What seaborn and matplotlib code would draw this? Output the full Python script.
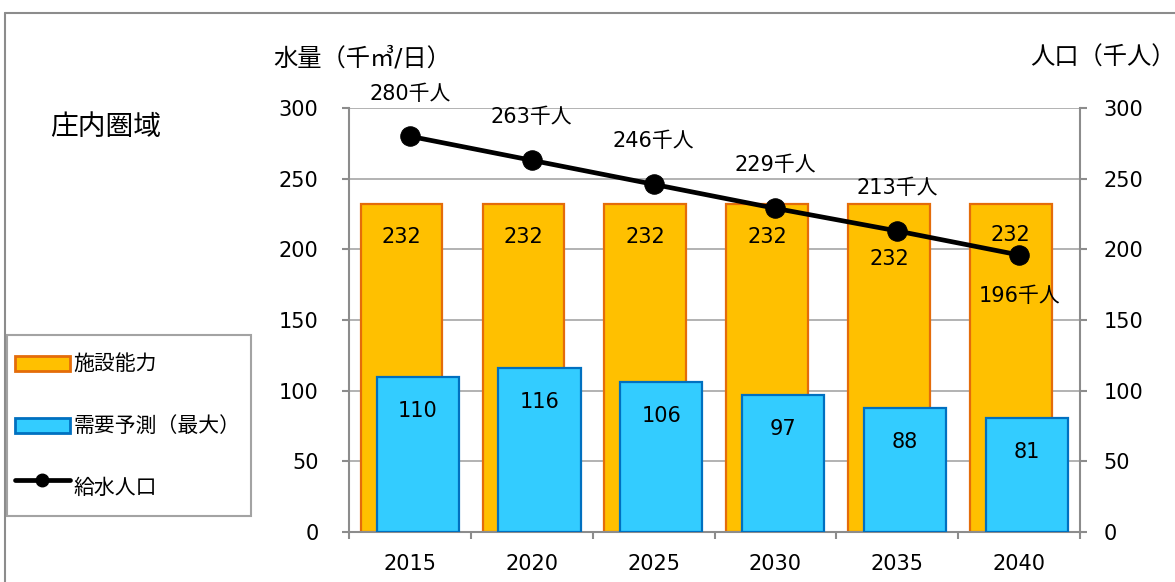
import numpy as np
import pandas as pd
import seaborn as sns
import matplotlib.pyplot as plt
from matplotlib.lines import Line2D
from matplotlib.patches import Patch, Rectangle
from matplotlib.legend_handler import HandlerPatch

# ---- data ----
years = ["2015", "2020", "2025", "2030", "2035", "2040"]
capacity = [232, 232, 232, 232, 232, 232]
demand = [110, 116, 106, 97, 88, 81]
population = [280, 263, 246, 229, 213, 196]
y_ticks = [0, 50, 100, 150, 200, 250, 300]

# ---- style ----
sns.set_style("white")
plt.rcParams['font.family'] = ['DejaVu Sans', 'Noto Sans CJK JP']
plt.rcParams['font.size'] = 15
plt.rcParams['text.color'] = 'black'
plt.rcParams['xtick.color'] = 'black'
plt.rcParams['ytick.color'] = 'black'

W, H = 1175, 582
GRAY = '#8C8C8C'
orange_fill, orange_edge = '#FFC000', '#E46C0A'
blue_fill, blue_edge = '#33CCFF', '#0070C0'

fig = plt.figure(figsize=(W / 100, H / 100), dpi=100)
ax = fig.add_axes([349 / W, 1 - 532 / H, (1080 - 349) / W, (532 - 108) / H])

df = pd.DataFrame({"year": years, "capacity": capacity, "demand": demand,
                   "population": population})
n = len(years)

sns.barplot(data=df, x="year", y="capacity", color=orange_fill, width=0.67,
            edgecolor=orange_edge, linewidth=1.6, saturation=1, ax=ax, zorder=2)
for p in ax.patches[:n]:
    p.set_x(p.get_x() - 0.068)
sns.barplot(data=df, x="year", y="demand", color=blue_fill, width=0.675,
            edgecolor=blue_edge, linewidth=1.6, saturation=1, ax=ax, zorder=3)
for p in ax.patches[n:2 * n]:
    p.set_x(p.get_x() + 0.064)

ax.set_xlim(-0.5, n - 0.5)
ax.set_ylim(0, 300)
ax.set_yticks(y_ticks)
ax.set_xlabel("")
ax.set_ylabel("")
ax.yaxis.grid(True, color='#A6A6A6', lw=1.2, zorder=0)
ax.set_axisbelow(True)
for s in ['left', 'bottom']:
    ax.spines[s].set_color(GRAY)
    ax.spines[s].set_linewidth(1.5)
ax.spines['top'].set_visible(False)
ax.spines['right'].set_visible(False)

ax.set_xticks(np.arange(n))
ax.set_xticklabels(years)
ax.set_xticks(np.arange(n + 1) - 0.5, minor=True)
ax.tick_params(axis='x', which='major', length=0, pad=16, labelsize=15,
               labelcolor='black')
ax.tick_params(axis='x', which='minor', bottom=True, length=5, width=1.5,
               color=GRAY, direction='out')
ax.tick_params(axis='y', left=True, length=5, width=1.5, color=GRAY,
               direction='out', pad=17, labelsize=15, labelcolor='black')

# bar labels
cap_offsets = [-33, -33, -33, -33, -55, -31]
for i, p in enumerate(ax.patches[:n]):
    ax.annotate(f"{capacity[i]}", (p.get_x() + p.get_width() / 2, capacity[i]),
                xytext=(0, cap_offsets[i]), textcoords='offset pixels',
                ha='center', va='center', fontsize=15, color='black', zorder=6)
for i, p in enumerate(ax.patches[n:2 * n]):
    ax.annotate(f"{demand[i]}", (p.get_x() + p.get_width() / 2, demand[i]),
                xytext=(0, -34), textcoords='offset pixels',
                ha='center', va='center', fontsize=15, color='black', zorder=6)

# ---- population line on right axis ----
ax2 = ax.twinx()
sns.lineplot(x=np.arange(n), y=population, ax=ax2, color='black', lw=3.4,
             marker='o', markersize=14, markeredgecolor='black', zorder=5)
ax2.set_ylim(0, 300)
ax2.set_xlim(-0.5, n - 0.5)
ax2.set_yticks(y_ticks)
ax2.tick_params(axis='y', right=True, length=5, width=1.5, color=GRAY,
                direction='out', pad=12, labelsize=15, labelcolor='black')
for s in ['left', 'bottom', 'top']:
    ax2.spines[s].set_visible(False)
ax2.spines['right'].set_color(GRAY)
ax2.spines['right'].set_linewidth(1.5)
ax2.grid(False)

pop_offsets = [42, 43, 43, 43, 43, -41]
for i in range(n):
    ax2.annotate(f"{population[i]}千人", (i, population[i]),
                 xytext=(0, pop_offsets[i]), textcoords='offset pixels',
                 ha='center', va='center', fontsize=15, color='black')

# ---- texts ----
fig.text(273 / W, 1 - 58 / H, "水量（千㎥/日）", ha='left', va='center', fontsize=17.5)
fig.text(1030 / W, 1 - 58 / H, "人口（千人）", ha='left', va='center', fontsize=17.5)
fig.text(50 / W, 1 - 127 / H, "庄内圏域", ha='left', va='center', fontsize=20)


# ---- legend ----
def small_rect(legend, orig_handle, xdescent, ydescent, width, height, fontsize):
    h = 0.72 * fontsize
    return Rectangle((-xdescent, -ydescent + (height - h) / 2), width, h)


handles = [Patch(facecolor=orange_fill, edgecolor=orange_edge, lw=2),
           Patch(facecolor=blue_fill, edgecolor=blue_edge, lw=2),
           Line2D([], [], color='black', lw=3.4, marker='o', markersize=9)]
labels = ["施設能力", "需要予測（最大）", "給水人口"]
leg = fig.legend(handles, labels, loc='upper left',
                 bbox_to_anchor=(7 / W, 1 - 335 / H - 0.01, (251 - 7) / W, 0.01),
                 mode='expand', fontsize=15, frameon=True, fancybox=False,
                 edgecolor=GRAY, borderpad=0.4, labelspacing=1.0,
                 handleheight=2.65, handlelength=2.6, handletextpad=0.2,
                 borderaxespad=0,
                 handler_map={Patch: HandlerPatch(patch_func=small_rect)})
leg.get_frame().set_linewidth(1.5)

# ---- figure border ----
fig.add_artist(Line2D([5 / W, 1], [1 - 13 / H, 1 - 13 / H],
                      transform=fig.transFigure, color=GRAY, lw=1.5))
fig.add_artist(Line2D([5 / W, 5 / W], [0, 1 - 13 / H],
                      transform=fig.transFigure, color=GRAY, lw=1.5))

fig.savefig("out.png", dpi=100)
